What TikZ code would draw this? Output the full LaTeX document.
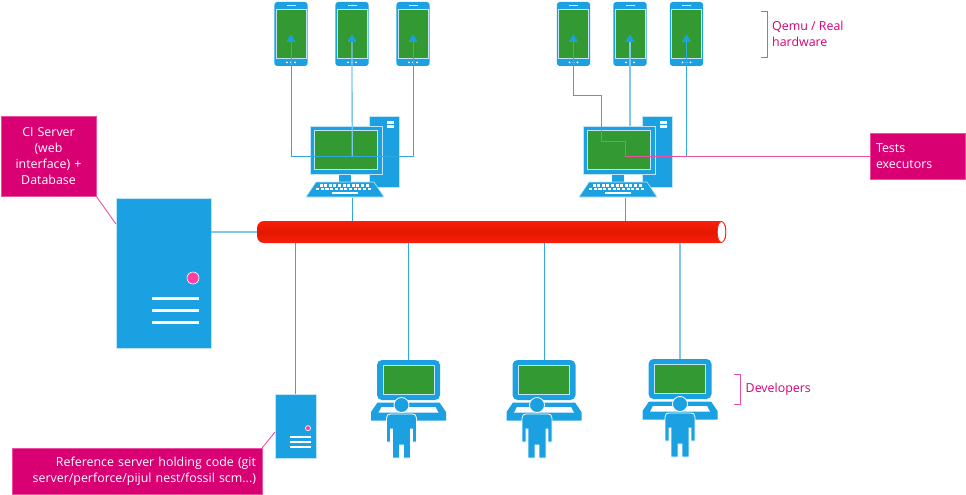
\documentclass[tikz,border=0pt]{standalone}
\usepackage{fontspec}
\setmainfont{Open Sans}
\usepackage{tikz}
\usetikzlibrary{arrows.meta}
\usetikzlibrary{shapes.geometric}
\usetikzlibrary{positioning}
\definecolor{devblue}{HTML}{1BA1E2}
\definecolor{edgeblue}{HTML}{BFE4F6}
\definecolor{linkblue}{HTML}{2FA8E4}
\definecolor{softblue}{HTML}{7CC8EE}
\definecolor{screengreen}{HTML}{339933}
\definecolor{notepink}{HTML}{D80073}
\definecolor{leadpink}{HTML}{EC4FA0}
\definecolor{dotpink}{HTML}{FF3FA5}
\definecolor{busred}{HTML}{F9200A}
\definecolor{busdark}{HTML}{E41800}
\tikzstyle{part}=[fill=devblue,draw=edgeblue,line width=.6pt]
\tikzstyle{screen}=[fill=screengreen,draw=edgeblue,line width=.8pt,inner sep=0pt]
\tikzstyle{link}=[draw=linkblue,line width=1pt]
\tikzstyle{softlink}=[draw=softblue,line width=1.3pt]
\tikzstyle{uparrow}=[-{Triangle[length=7.5pt,width=9pt,color=devblue]}]
\tikzstyle{lead}=[draw=leadpink,line width=.9pt]
\tikzstyle{callout}=[fill=notepink,draw=leadpink,line width=.4pt,text=white,inner sep=6pt,font=\fontsize{12.4}{16}\selectfont]
\tikzstyle{note}=[text=notepink,inner sep=0pt,align=left,font=\fontsize{12.4}{16}\selectfont]
\tikzset{
  phone/.pic={
    \fill[part,draw=none,rounded corners=3pt] (-16.7,-32) rectangle (16.7,32);
    \node [screen,minimum width=30pt,minimum height=49pt] (-screen) at (0,.3) {};
    \fill[white] (-4.5,-28.6) rectangle (4.5,-27.6);
    \foreach \d in {-4,0,4} \fill[white] (\d,28.3) circle (1pt);
  },
  desktop/.pic={
    \fill[part] (23,-34) rectangle (53,37);
    \fill[white] (41,-29.5) rectangle (47.5,-26);
    \fill[white] (41,-24.7) rectangle (47.5,-21.7);
    \fill[devblue] (-7,24) rectangle (5,32);
    \filldraw[part] (-36,-24) rectangle (36,24);
    \node [screen,minimum width=63pt,minimum height=39pt] (-screen) at (0,0) {};
    \filldraw[part] (-30,32) -- (28,32) -- (38,47) -- (-40,47) -- cycle;
    \foreach \k in {0,...,10} \fill[white] (-26.5+\k*4.6,34.2) rectangle ++(3.1,2.6);
    \foreach \k in {0,...,11} \fill[white] (-30+\k*4.7,37.8) rectangle ++(3.1,2.6);
    \fill[white] (-14,42) rectangle (12.3,43.8);
    \coordinate (-hub) at (6.2,6);
    \coordinate (-foot) at (6.2,48);
  },
  laptop/.pic={
    \fill[devblue,rounded corners=5pt] (-31.5,40) -- (-31.5,0) -- (31.5,0) -- (31.5,40) -- cycle;
    \node [screen,minimum width=51pt,minimum height=29pt] (-screen) at (0,19.5) {};
    \fill[devblue] (-31,42.5) -- (31,42.5) -- (37.5,52) -- (37.5,60.7) -- (-37.5,60.7) -- (-37.5,52) -- cycle;
    \fill[white] (-27,47) -- (27,47) -- (30,52.7) -- (-30,52.7) -- cycle;
    \coordinate (-top) at (0,0);
  },
  person/.pic={
    \filldraw[part,draw=white,line width=.8pt] (0,0) circle (7.5pt);
    \filldraw[part,draw=white,line width=.8pt] (-15,37) -- (-15,13) .. controls (-15,10) and (-13,9) .. (-11,9) -- (11,9) .. controls (13,9) and (15,10) .. (15,13) -- (15,37) -- (11,37) -- (11,24) -- (9,24) -- (9,53) -- (2,53) -- (2,40) -- (-2,40) -- (-2,53) -- (-9,53) -- (-9,24) -- (-11,24) -- (-11,37) -- (-15,37) -- cycle;
  },
  server/.pic={
    \node [fill=devblue,draw=edgeblue,line width=.3pt,inner sep=0pt,minimum width=95pt,minimum height=150pt,transform shape] (-box) at (0,0) {};
    \filldraw[fill=dotpink,draw=white,line width=.6pt] (29.5,5) circle (6pt);
    \foreach \y in {24,35.5,47.5} \fill[white] (-11.5,\y) rectangle (35.5,\y+3);
  }
}
\begin{document}
\begin{tikzpicture}[x=1pt,y=-1pt]
\useasboundingbox (0,0) rectangle (966,495);
\foreach \n/\x in {1/291,2/352,3/413,4/573.5,5/630,6/686.5} \pic (ph\n) at (\x,34) {phone};
\pic (pc1) at (346,150) {desktop};
\pic (pc2) at (619,150) {desktop};
\pic (lap1) at (408.5,360) {laptop};
\pic (lap2) at (544,360) {laptop};
\pic (lap3) at (680,359) {laptop};
\pic at (401.5,405) {person};
\pic at (537,405) {person};
\pic at (680,404) {person};
\pic (ci) at (163.5,273) {server};
\pic [scale=.43] (ref) at (295.3,426) {server};
\node [inner sep=0pt,minimum width=469pt,minimum height=22pt,rounded corners=7pt,top color=busred,bottom color=busred,middle color=busdark] (bus) at (491.5,232) {};
\node [ellipse,inner sep=0pt,minimum width=8.5pt,minimum height=21pt,fill=white,draw=busred,line width=.7pt] (busend) at (721.5,232) {};
\node [callout,minimum width=95pt,minimum height=80pt,text width=83pt,align=center] (cinote) at (48.5,156) {CI Server\\(web\\interface) +\\Database};
\node [callout,minimum width=95pt,minimum height=46pt,text width=83pt,align=left] (testsnote) at (917.5,156) {Tests\\executors};
\node [callout,minimum width=250pt,minimum height=46pt,text width=238pt,align=right] (refnote) at (137,471) {Reference server holding code (git\\server/perforce/pijul nest/fossil scm...)};
\node [note,anchor=west] (qemunote) at (772,34) {Qemu / Real\\hardware};
\node [note,anchor=west] (devnote) at (745.5,389) {Developers};
\draw[link,uparrow] (pc1-hub) -| (ph1-screen.center);
\draw[link,uparrow] (pc1-hub) -| (ph3-screen.center);
\draw[softlink,uparrow] (pc1-hub) -- (ph2-screen.center);
\draw[link,uparrow] (pc2-hub) -- ++(0,-15) -- ++(-24,0) -- ++(0,-46) -| (ph4-screen.center);
\draw[softlink,uparrow] (ph5-screen.center |- 0,126) -- (ph5-screen.center);
\draw[link,uparrow] (pc2-hub) -| (ph6-screen.center);
\draw[link] (pc1-foot) -- (pc1-foot |- bus.north);
\draw[link] (pc2-foot) -- (pc2-foot |- bus.north);
\draw[softlink] (ci-box.east |- bus.west) -- (bus.west);
\draw[link] (ref-box.north) -- (ref-box.north |- bus.south);
\draw[link] (lap1-top) -- (lap1-top |- bus.south);
\draw[link] (lap2-top) -- (lap2-top |- bus.south);
\draw[softlink] (lap3-top) -- (lap3-top |- bus.south);
\draw[lead] (cinote.south east) -- (116,224);
\draw[lead] (refnote.north east) -- (275,432);
\draw[lead] (testsnote.west) -- (pc2-hub);
\draw[lead] (761,11.5) -- (767,11.5) -- (767,57) -- (761,57);
\draw[lead] (734,374.5) -- (740,374.5) -- (740,404.5) -- (734,404.5);
\end{tikzpicture}
\end{document}
